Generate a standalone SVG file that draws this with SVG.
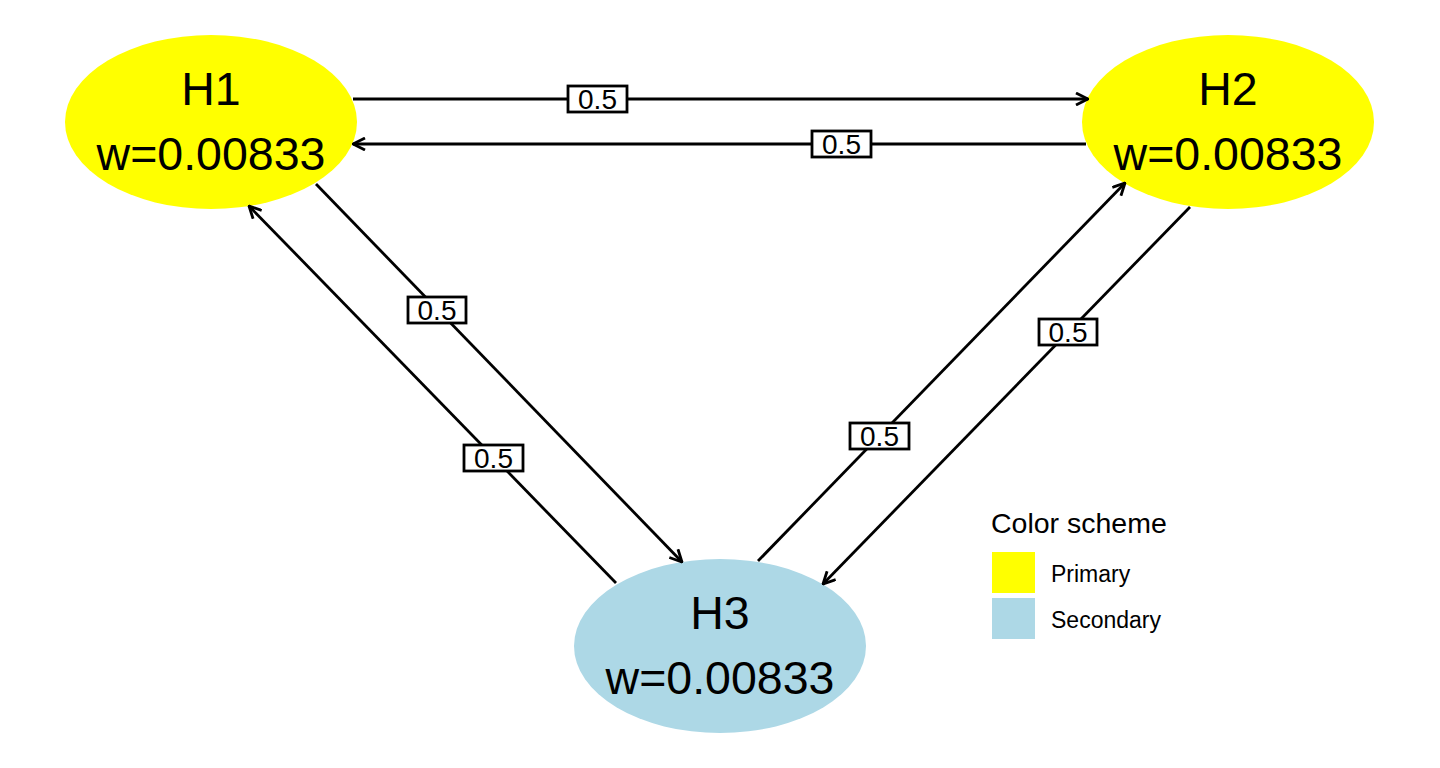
<svg xmlns="http://www.w3.org/2000/svg" width="1440" height="768" viewBox="0 0 1440 768">
<style>
.node text{font-family:"Liberation Sans",Arial,sans-serif;font-size:46.5px;text-anchor:middle;fill:#000}
.edge line{stroke:#000;stroke-width:2.8;fill:none}
.lbl rect{fill:#fff;stroke:#000;stroke-width:2.8}
.lbl text{font-family:"Liberation Sans",Arial,sans-serif;font-size:28px;text-anchor:middle;fill:#000}
.leg{font-family:"Liberation Sans",Arial,sans-serif;fill:#000}
</style>
<defs>
<marker id="ah" viewBox="0 0 14 14" refX="13" refY="7" markerWidth="14" markerHeight="14" markerUnits="userSpaceOnUse" orient="auto">
<path d="M1,1 L13,7 L1,13" fill="none" stroke="#000" stroke-width="2.8"/>
</marker>
</defs>
<rect width="1440" height="768" fill="#fff"/>
<g id="H1" class="node">
<ellipse cx="211" cy="122" rx="146" ry="87" fill="#ffff00"/>
<text x="211" y="105">H1</text>
<text x="211" y="170">w=0.00833</text>
</g>
<g id="H2" class="node">
<ellipse cx="1228" cy="122" rx="146" ry="87" fill="#ffff00"/>
<text x="1228" y="105">H2</text>
<text x="1228" y="170">w=0.00833</text>
</g>
<g id="H3" class="node">
<ellipse cx="720" cy="646" rx="146" ry="87" fill="#add8e6"/>
<text x="720" y="629">H3</text>
<text x="720" y="694">w=0.00833</text>
</g>
<g id="connectors" class="edge">
<line x1="353" y1="99" x2="1088" y2="99" marker-end="url(#ah)"/>
<line x1="1086" y1="144" x2="353" y2="144" marker-end="url(#ah)"/>
<line x1="316" y1="184" x2="682" y2="562" marker-end="url(#ah)"/>
<line x1="616" y1="583" x2="249" y2="206" marker-end="url(#ah)"/>
<line x1="758" y1="561" x2="1125" y2="183" marker-end="url(#ah)"/>
<line x1="1190" y1="207" x2="823" y2="584" marker-end="url(#ah)"/>
</g>
<g id="labels" class="lbl">
<rect x="568" y="86" width="59" height="26"/><text x="597.5" y="108.5">0.5</text>
<rect x="812" y="131" width="59" height="26"/><text x="841.5" y="153.5">0.5</text>
<rect x="408" y="297" width="58" height="26"/><text x="437" y="319.5">0.5</text>
<rect x="464" y="445" width="59" height="26"/><text x="493.5" y="467.5">0.5</text>
<rect x="850" y="423" width="59" height="26"/><text x="879.5" y="445.5">0.5</text>
<rect x="1039" y="319" width="58" height="26"/><text x="1068" y="341.5">0.5</text>
</g>
<g id="legend" class="leg">
<text x="991" y="533" font-size="28.5">Color scheme</text>
<rect x="992" y="552" width="43" height="41" fill="#ffff00"/>
<rect x="992" y="598" width="43" height="41" fill="#add8e6"/>
<text x="1051" y="582" font-size="23">Primary</text>
<text x="1051" y="628" font-size="23">Secondary</text>
</g>
</svg>
